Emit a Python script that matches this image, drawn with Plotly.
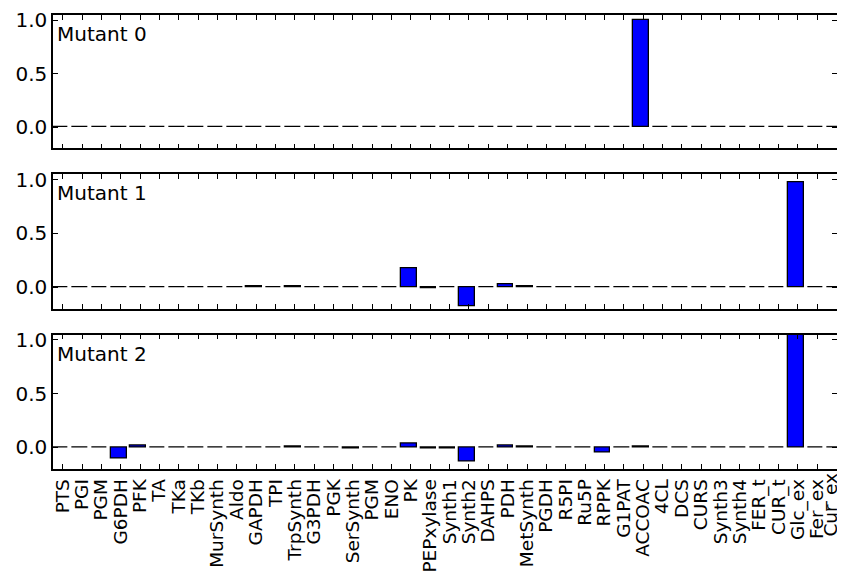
import plotly.graph_objects as go

reactions = ["PTS", "PGI", "PGM", "G6PDH", "PFK", "TA", "TKa", "TKb", "MurSynth", "Aldo",
             "GAPDH", "TPI", "TrpSynth", "G3PDH", "PGK", "SerSynth", "PGM", "ENO", "PK", "PEPxylase",
             "Synth1", "Synth2", "DAHPS", "PDH", "MetSynth", "PGDH", "R5PI", "Ru5P", "RPPK", "G1PAT",
             "ACCOAC", "4CL", "DCS", "CURS", "Synth3", "Synth4", "FER_t", "CUR_t", "Glc_ex", "Fer_ex",
             "Cur_ex"]

mutant0 = [0, 0, 0, 0, 0, 0, 0, 0, 0, 0,
           0, 0, 0, 0, 0, 0, 0, 0, 0, 0,
           0, 0, 0, 0, 0, 0, 0, 0, 0, 0,
           1.0, 0, 0, 0, 0, 0, 0, 0, 0, 0,
           0]

mutant1 = [0, 0, 0, -0.005, -0.003, 0, 0, 0, 0, 0,
           0.006, 0, 0.006, 0, 0, 0, 0, 0, 0.175, -0.012,
           0, -0.175, 0, 0.027, 0.01, 0, 0, 0, 0, 0,
           0.003, 0, 0, 0, 0, 0, 0, 0, 0.98, 0,
           0]

mutant2 = [0, 0, 0, -0.105, 0.017, 0, 0, 0, 0, 0,
           0, 0, 0.006, 0, 0, -0.006, 0, 0, 0.04, -0.012,
           -0.008, -0.128, 0, 0.014, 0.008, 0, 0, 0, -0.05, 0,
           0.004, 0.003, 0, 0.003, 0, 0, 0, 0, 1.12, 0,
           0]

series = [("Mutant 0", mutant0), ("Mutant 1", mutant1), ("Mutant 2", mutant2)]
positions = list(range(len(reactions)))

FONT = "DejaVu Sans"
domains = [[0.706, 1.0], [0.353, 0.649], [0.0, 0.296]]

fig = go.Figure()
for k, (name, vals) in enumerate(series):
    xa = "x" if k == 0 else f"x{k+1}"
    ya = "y" if k == 0 else f"y{k+1}"
    fig.add_trace(go.Bar(
        x=positions, y=vals, width=0.8, offset=-0.5,
        marker=dict(color="#0000ff", line=dict(color="black", width=1.3)),
        xaxis=xa, yaxis=ya, showlegend=False, name=name,
    ))

# page body has an 8px margin; the figure is sized to fit inside the window
layout = dict(
    width=829, height=565,
    margin=dict(l=45, r=0, t=7, b=104, autoexpand=False),
    paper_bgcolor="white", plot_bgcolor="white",
    font=dict(family=FONT, size=20, color="black"),
    bargap=0, barmode="overlay",
)

# the last label sits at the right edge; it is drawn as a rotated annotation nudged inward
bottom_text = reactions[:-1] + [""]

for k in range(3):
    xkey = "xaxis" if k == 0 else f"xaxis{k+1}"
    ykey = "yaxis" if k == 0 else f"yaxis{k+1}"
    ya = "y" if k == 0 else f"y{k+1}"
    layout[xkey] = dict(
        domain=[0, 1], anchor=ya, range=[-0.5, 40.02], automargin=False,
        tickmode="array", tickvals=positions,
        ticktext=bottom_text if k == 2 else [""] * len(reactions),
        showticklabels=(k == 2), tickangle=-90, ticklabeloverflow="allow",
        ticklabelstandoff=1,
        ticks="inside", ticklen=5, tickwidth=1, tickcolor="black",
        showline=True, linecolor="black", linewidth=1.5, mirror="ticks",
        showgrid=False, zeroline=False,
        tickfont=dict(family=FONT, size=18.5, color="black"),
    )
    layout[ykey] = dict(
        domain=domains[k], anchor="x" if k == 0 else f"x{k+1}", automargin=False,
        range=[-0.2, 1.05], tickvals=[0.0, 0.5, 1.0], ticktext=["0.0", "0.5", "1.0"],
        ticklabeloverflow="allow",
        ticks="inside", ticklen=5, tickwidth=1, tickcolor="black",
        showline=True, linecolor="black", linewidth=1.5, mirror="ticks",
        showgrid=False, zeroline=False,
        tickfont=dict(family=FONT, size=20, color="black"),
    )

fig.update_layout(**layout)

for k, (name, vals) in enumerate(series):
    xr = "x domain" if k == 0 else f"x{k+1} domain"
    yr = "y domain" if k == 0 else f"y{k+1} domain"
    fig.add_annotation(text=name, xref=xr, yref=yr, x=0, y=1,
                       xanchor="left", yanchor="top", xshift=2, yshift=-5,
                       showarrow=False, font=dict(family=FONT, size=20, color="black"))

fig.add_annotation(text=reactions[-1], xref="x3", yref="y3 domain", x=positions[-1], y=0,
                   textangle=-90, xanchor="center", yanchor="top", xshift=-6, yshift=-3,
                   borderpad=0, showarrow=False, font=dict(family=FONT, size=18.5, color="black"))

fig.write_html("out.html")
